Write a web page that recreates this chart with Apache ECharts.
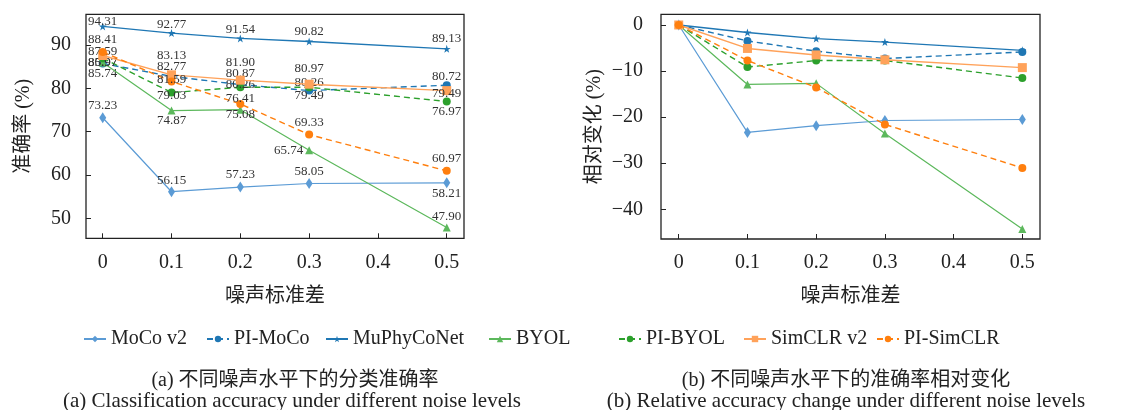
<!DOCTYPE html>
<html>
<head>
<meta charset="utf-8">
<script src="https://cdn.jsdelivr.net/npm/echarts@6/dist/echarts.min.js"></script>
<style>html,body{margin:0;padding:0;background:#fff}#c{width:1143px;height:410px}</style>
</head>
<body>
<div id="c"></div>
<script>
// ---------- data ----------
const noiseLevels = [0, 0.1, 0.2, 0.3, 0.5];
const seriesNames = ['MoCo v2', 'PI-MoCo', 'MuPhyCoNet', 'BYOL', 'PI-BYOL', 'SimCLR v2', 'PI-SimCLR'];

// (a) accuracy (%)
const accMoCoV2     = [73.23, 56.15, 57.23, 58.05, 58.21];
const accPIMoCo     = [85.74, 82.77, 80.87, 79.49, 80.72];
const accMuPhyCoNet = [94.31, 92.77, 91.54, 90.82, 89.13];
const accBYOL       = [85.97, 74.87, 75.08, 65.74, 47.90];
const accPIBYOL     = [86.97, 79.03, 80.26, 80.26, 76.97];
const accSimCLRv2   = [87.59, 83.13, 81.90, 80.97, 79.49];
const accPISimCLR   = [88.41, 81.59, 76.41, 69.33, 60.97];

// (b) relative change (%)
const relMoCoV2     = [0, -23.32, -21.85, -20.73, -20.51];
const relPIMoCo     = [0, -3.46, -5.68, -7.29, -5.85];
const relMuPhyCoNet = [0, -1.63, -2.94, -3.70, -5.49];
const relBYOL       = [0, -12.91, -12.67, -23.53, -44.28];
const relPIBYOL     = [0, -9.13, -7.72, -7.72, -11.50];
const relSimCLRv2   = [0, -5.09, -6.50, -7.56, -9.25];
const relPISimCLR   = [0, -7.71, -13.57, -21.58, -31.04];

const accData = [accMoCoV2, accPIMoCo, accMuPhyCoNet, accBYOL, accPIBYOL, accSimCLRv2, accPISimCLR];
const relData = [relMoCoV2, relPIMoCo, relMuPhyCoNet, relBYOL, relPIBYOL, relSimCLRv2, relPISimCLR];

// ---------- style ----------
const SERIF = "'Liberation Serif','Noto Sans CJK SC',serif";
const STAR = 'path://M50,0 L61.2,34.5 L97.6,34.5 L68.2,55.9 L79.4,90.5 L50,69.1 L20.6,90.5 L31.8,55.9 L2.4,34.5 L38.8,34.5 Z';
const styles = [
  {color: '#5b9bd5', dash: 'solid', width: 1.2, symbol: 'diamond', size: [7, 11]},
  {color: '#1f77b4', dash: [6, 4], width: 1.4, symbol: 'circle', size: 8},
  {color: '#1f77b4', dash: 'solid', width: 1.3, symbol: STAR, size: 8},
  {color: '#5cb85c', dash: 'solid', width: 1.2, symbol: 'triangle', size: 8},
  {color: '#2ca02c', dash: [6, 4], width: 1.4, symbol: 'circle', size: 8},
  {color: '#ffa25a', dash: 'solid', width: 1.4, symbol: 'rect', size: 9},
  {color: '#ff7f0e', dash: [6, 4], width: 1.4, symbol: 'circle', size: 8}
];
// vertical label offsets (px, relative to point) for panel (a); 'L' = left of point
const labelDy = [
  [-12.6, -11.6, -12, -11.7, 10.6],
  [10, -9.6, -11.2, 5.2, -8.6],
  [-5.3, -8, -9.3, -10.4, -10],
  [0, 9.5, 4.7, 'L', -10.7],
  [4.2, 3.2, -2.2, -4.5, 10.5],
  [-3.7, -19, -18, -16, 3],
  [-12, -2.4, -5.6, -12, -12.5]
];
const legendLeft = [83, 206, 325, 488, 618, 743, 876];

const series = [];
seriesNames.forEach((name, i) => {
  const st = styles[i];
  const common = {
    name, type: 'line', color: st.color,
    symbol: st.symbol, symbolSize: st.size,
    lineStyle: {color: st.color, width: st.width, type: st.dash},
    itemStyle: {color: st.color},
    emphasis: {disabled: true}, animation: false, z: 2 + i
  };
  series.push(Object.assign({}, common, {
    xAxisIndex: 0, yAxisIndex: 0,
    data: noiseLevels.map((x, j) => {
      const d = labelDy[i][j];
      const lab = d === 'L'
        ? {show: true, position: 'left', distance: 2}
        : {show: true, position: 'inside'};
      return {value: [x, accData[i][j]], label: lab};
    }),
    label: {show: true, color: '#333', fontFamily: SERIF, fontSize: 13,
      formatter: p => p.value[1].toFixed(2)},
    labelLayout: p => {
      const d = labelDy[i][p.dataIndex];
      return d === 'L' ? {} : {dy: d};
    }
  }));
  series.push(Object.assign({}, common, {
    xAxisIndex: 1, yAxisIndex: 1,
    data: noiseLevels.map((x, j) => [x, relData[i][j]])
  }));
});

const axisFont = {color: '#222', fontFamily: SERIF, fontSize: 20};
const mkX = (min, max) => ({
  type: 'value', min, max, minInterval: 0.1, maxInterval: 0.1,
  name: '噪声标准差', nameLocation: 'middle', nameGap: 48,
  nameTextStyle: {color: '#222', fontFamily: SERIF, fontSize: 20},
  axisLine: {show: false, onZero: false}, splitLine: {show: false},
  axisTick: {show: true, inside: true, length: 5, lineStyle: {color: '#222', width: 1}},
  axisLabel: Object.assign({margin: 14, showMinLabel: false, showMaxLabel: false,
    formatter: v => String(+v.toFixed(1))}, axisFont)
});
const mkY = (min, max, name, gap, margin) => ({
  type: 'value', min, max, minInterval: 10, maxInterval: 10,
  name, nameLocation: 'middle', nameGap: gap, nameRotate: 90,
  nameTextStyle: {color: '#222', fontFamily: SERIF, fontSize: 20},
  axisLine: {show: false, onZero: false}, splitLine: {show: false},
  axisTick: {show: true, inside: true, length: 5, lineStyle: {color: '#222', width: 1}},
  axisLabel: Object.assign({margin, showMinLabel: false, showMaxLabel: false,
    formatter: v => (v < 0 ? '\u2212' + Math.abs(v) : String(v))}, axisFont)
});

const legends = seriesNames.map((name, i) => ({
  data: [name], left: legendLeft[i], top: 329, padding: 0,
  itemWidth: 22, itemHeight: 8, itemGap: 0,
  textStyle: {color: '#222', fontFamily: SERIF, fontSize: 20},
  selectedMode: false
}));

const cap = (text, x, y, size) => ({
  type: 'text', style: {text, x, y, align: 'center', verticalAlign: 'middle',
    font: size + 'px ' + SERIF, fill: '#222'}
});

const option = {
  backgroundColor: '#fff',
  animation: false,
  grid: [
    {left: 86, top: 14.3, width: 378, height: 224, show: true, borderColor: '#222', borderWidth: 1.3, backgroundColor: '#fff'},
    {left: 661, top: 14.3, width: 379, height: 224.7, show: true, borderColor: '#222', borderWidth: 1.3, backgroundColor: '#fff'}
  ],
  xAxis: [
    Object.assign(mkX(-0.0243, 0.5251), {gridIndex: 0}),
    Object.assign(mkX(-0.0258, 0.5257), {gridIndex: 1})
  ],
  yAxis: [
    Object.assign(mkY(45.4, 97.1, '准确率 (%)', 52, 15), {gridIndex: 0}),
    Object.assign(mkY(-46.45, 2.32, '相对变化 (%)', 56, 18), {gridIndex: 1})
  ],
  legend: legends,
  series,
  graphic: [
    cap('(a) 不同噪声水平下的分类准确率', 295, 381, 20),
    cap('(a) Classification accuracy under different noise levels', 292, 401, 21),
    cap('(b) 不同噪声水平下的准确率相对变化', 846, 381, 20),
    cap('(b) Relative accuracy change under different noise levels', 846, 401, 21)
  ]
};

const chart = echarts.init(document.getElementById('c'), null, {renderer: 'canvas'});
chart.setOption(option);
</script>
</body>
</html>
